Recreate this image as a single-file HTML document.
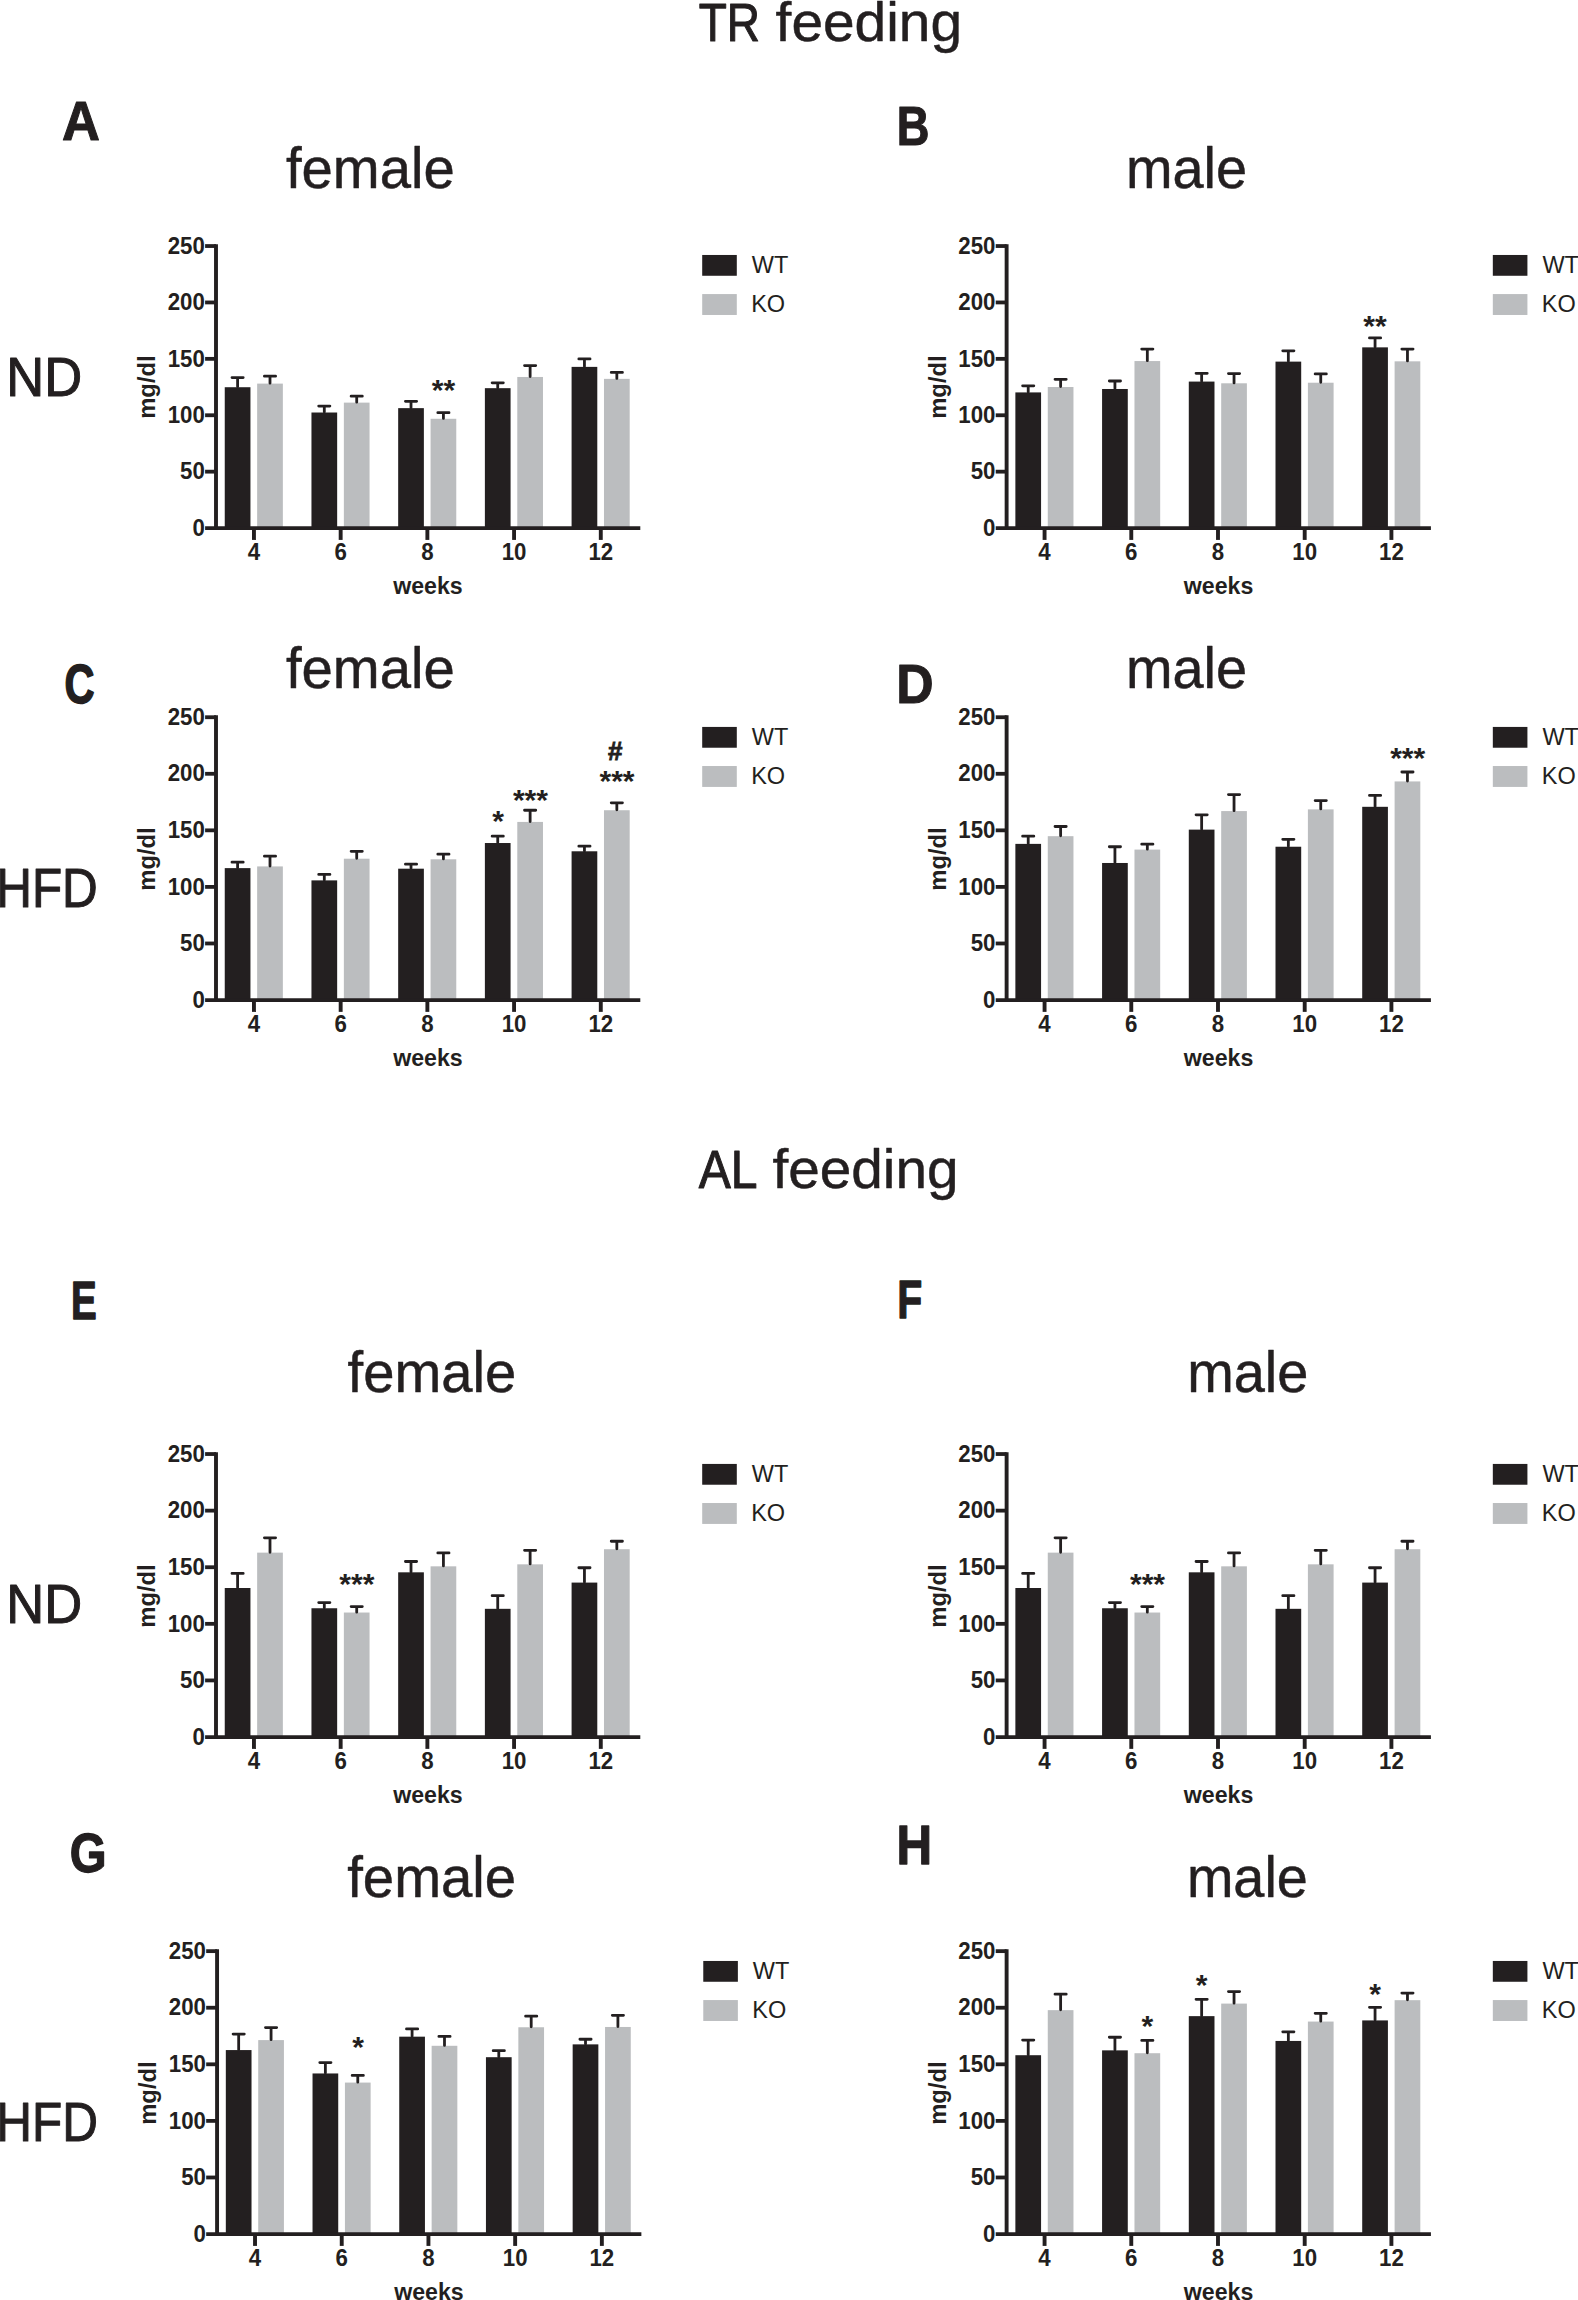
<!DOCTYPE html>
<html lang="en">
<head>
<meta charset="utf-8">
<title>Figure</title>
<style>html,body{margin:0;padding:0;background:#fff}body{width:1578px;height:2300px;overflow:hidden}svg{display:block}text{white-space:pre}</style>
</head>
<body>
<svg width="1578" height="2300" viewBox="0 0 1578 2300" font-family="'Liberation Sans', Arial, Helvetica, sans-serif" fill="#231f20">
<rect width="1578" height="2300" fill="#fff"/>
<g>
<rect x="224.75" y="387.22" width="25.7" height="140.85" fill="#231f20"/>
<path d="M237.60 386.82V377.53M232.00 377.53H243.20" stroke="#231f20" stroke-width="2.8" stroke-linecap="round" fill="none"/>
<rect x="257.15" y="383.61" width="25.7" height="144.46" fill="#bbbdbf"/>
<path d="M270.00 383.21V376.20M264.40 376.20H275.60" stroke="#231f20" stroke-width="2.8" stroke-linecap="round" fill="none"/>
<rect x="311.46" y="412.51" width="25.7" height="115.56" fill="#231f20"/>
<path d="M324.31 412.11V406.05M318.71 406.05H329.91" stroke="#231f20" stroke-width="2.8" stroke-linecap="round" fill="none"/>
<rect x="343.86" y="402.62" width="25.7" height="125.45" fill="#bbbdbf"/>
<path d="M356.71 402.22V396.16M351.11 396.16H362.31" stroke="#231f20" stroke-width="2.8" stroke-linecap="round" fill="none"/>
<rect x="398.17" y="408.14" width="25.7" height="119.93" fill="#231f20"/>
<path d="M411.02 407.74V401.29M405.42 401.29H416.62" stroke="#231f20" stroke-width="2.8" stroke-linecap="round" fill="none"/>
<rect x="430.57" y="418.78" width="25.7" height="109.29" fill="#bbbdbf"/>
<path d="M443.42 418.38V412.70M437.82 412.70H449.02" stroke="#231f20" stroke-width="2.8" stroke-linecap="round" fill="none"/>
<rect x="484.88" y="388.17" width="25.7" height="139.90" fill="#231f20"/>
<path d="M497.73 387.77V382.85M492.13 382.85H503.33" stroke="#231f20" stroke-width="2.8" stroke-linecap="round" fill="none"/>
<rect x="517.28" y="376.96" width="25.7" height="151.11" fill="#bbbdbf"/>
<path d="M530.13 376.56V365.55M524.53 365.55H535.73" stroke="#231f20" stroke-width="2.8" stroke-linecap="round" fill="none"/>
<rect x="571.59" y="366.88" width="25.7" height="161.19" fill="#231f20"/>
<path d="M584.44 366.48V358.90M578.84 358.90H590.04" stroke="#231f20" stroke-width="2.8" stroke-linecap="round" fill="none"/>
<rect x="603.99" y="378.86" width="25.7" height="149.21" fill="#bbbdbf"/>
<path d="M616.84 378.46V372.40M611.24 372.40H622.44" stroke="#231f20" stroke-width="2.8" stroke-linecap="round" fill="none"/>
<path d="M216.00 244.14V530.02" stroke="#231f20" stroke-width="3.9" fill="none"/>
<path d="M205.10 528.07H640.30" stroke="#231f20" stroke-width="3.8" fill="none"/>
<path d="M205.10 471.66H216.00" stroke="#231f20" stroke-width="3.8" fill="none"/>
<path d="M205.10 415.26H216.00" stroke="#231f20" stroke-width="3.8" fill="none"/>
<path d="M205.10 358.85H216.00" stroke="#231f20" stroke-width="3.8" fill="none"/>
<path d="M205.10 302.45H216.00" stroke="#231f20" stroke-width="3.8" fill="none"/>
<path d="M205.10 246.04H216.00" stroke="#231f20" stroke-width="3.8" fill="none"/>
<path d="M253.95 528.07V539.92" stroke="#231f20" stroke-width="3.9" fill="none"/>
<path d="M340.66 528.07V539.92" stroke="#231f20" stroke-width="3.9" fill="none"/>
<path d="M427.37 528.07V539.92" stroke="#231f20" stroke-width="3.9" fill="none"/>
<path d="M514.08 528.07V539.92" stroke="#231f20" stroke-width="3.9" fill="none"/>
<path d="M600.79 528.07V539.92" stroke="#231f20" stroke-width="3.9" fill="none"/>
<text transform="translate(204.90 535.77) scale(1 1.06)" font-size="22.3" font-weight="bold" text-anchor="end">0</text>
<text transform="translate(204.90 479.36) scale(1 1.06)" font-size="22.3" font-weight="bold" text-anchor="end">50</text>
<text transform="translate(204.90 422.96) scale(1 1.06)" font-size="22.3" font-weight="bold" text-anchor="end">100</text>
<text transform="translate(204.90 366.55) scale(1 1.06)" font-size="22.3" font-weight="bold" text-anchor="end">150</text>
<text transform="translate(204.90 310.15) scale(1 1.06)" font-size="22.3" font-weight="bold" text-anchor="end">200</text>
<text transform="translate(204.90 253.74) scale(1 1.06)" font-size="22.3" font-weight="bold" text-anchor="end">250</text>
<text transform="translate(253.95 559.77) scale(1 1.06)" font-size="22.3" font-weight="bold" text-anchor="middle">4</text>
<text transform="translate(340.66 559.77) scale(1 1.06)" font-size="22.3" font-weight="bold" text-anchor="middle">6</text>
<text transform="translate(427.37 559.77) scale(1 1.06)" font-size="22.3" font-weight="bold" text-anchor="middle">8</text>
<text transform="translate(514.08 559.77) scale(1 1.06)" font-size="22.3" font-weight="bold" text-anchor="middle">10</text>
<text transform="translate(600.79 559.77) scale(1 1.06)" font-size="22.3" font-weight="bold" text-anchor="middle">12</text>
<text transform="translate(427.90 593.77) scale(1 1)" font-size="23.15" font-weight="bold" text-anchor="middle">weeks</text>
<text transform="translate(155.30 387.07) rotate(-90)" font-size="23.8" font-weight="bold" text-anchor="middle">mg/dl</text>
<rect x="702.20" y="254.97" width="34.6" height="20.8" fill="#231f20"/>
<rect x="702.20" y="294.07" width="34.6" height="20.9" fill="#bbbdbf"/>
<text x="751.80" y="272.97" font-size="23.5">WT</text>
<text x="751.20" y="312.17" font-size="23.5">KO</text>
<text x="443.45" y="400.21" font-size="30.1" font-weight="bold" text-anchor="middle">**</text>
</g>
<g>
<rect x="1015.37" y="392.41" width="25.7" height="135.66" fill="#231f20"/>
<path d="M1028.22 392.01V385.86M1022.62 385.86H1033.82" stroke="#231f20" stroke-width="2.8" stroke-linecap="round" fill="none"/>
<rect x="1047.77" y="387.00" width="25.7" height="141.07" fill="#bbbdbf"/>
<path d="M1060.62 386.60V379.30M1055.02 379.30H1066.22" stroke="#231f20" stroke-width="2.8" stroke-linecap="round" fill="none"/>
<rect x="1102.08" y="388.99" width="25.7" height="139.08" fill="#231f20"/>
<path d="M1114.93 388.59V381.01M1109.33 381.01H1120.53" stroke="#231f20" stroke-width="2.8" stroke-linecap="round" fill="none"/>
<rect x="1134.48" y="361.05" width="25.7" height="167.02" fill="#bbbdbf"/>
<path d="M1147.33 360.65V349.07M1141.73 349.07H1152.93" stroke="#231f20" stroke-width="2.8" stroke-linecap="round" fill="none"/>
<rect x="1188.79" y="381.58" width="25.7" height="146.49" fill="#231f20"/>
<path d="M1201.64 381.18V373.31M1196.04 373.31H1207.24" stroke="#231f20" stroke-width="2.8" stroke-linecap="round" fill="none"/>
<rect x="1221.19" y="383.29" width="25.7" height="144.78" fill="#bbbdbf"/>
<path d="M1234.04 382.89V373.59M1228.44 373.59H1239.64" stroke="#231f20" stroke-width="2.8" stroke-linecap="round" fill="none"/>
<rect x="1275.50" y="361.62" width="25.7" height="166.45" fill="#231f20"/>
<path d="M1288.35 361.22V350.78M1282.75 350.78H1293.95" stroke="#231f20" stroke-width="2.8" stroke-linecap="round" fill="none"/>
<rect x="1307.90" y="382.72" width="25.7" height="145.35" fill="#bbbdbf"/>
<path d="M1320.75 382.32V373.88M1315.15 373.88H1326.35" stroke="#231f20" stroke-width="2.8" stroke-linecap="round" fill="none"/>
<rect x="1362.21" y="347.36" width="25.7" height="180.71" fill="#231f20"/>
<path d="M1375.06 346.96V337.95M1369.46 337.95H1380.66" stroke="#231f20" stroke-width="2.8" stroke-linecap="round" fill="none"/>
<rect x="1394.61" y="361.33" width="25.7" height="166.74" fill="#bbbdbf"/>
<path d="M1407.46 360.93V349.07M1401.86 349.07H1413.06" stroke="#231f20" stroke-width="2.8" stroke-linecap="round" fill="none"/>
<path d="M1006.62 244.14V530.02" stroke="#231f20" stroke-width="3.9" fill="none"/>
<path d="M995.72 528.07H1430.92" stroke="#231f20" stroke-width="3.8" fill="none"/>
<path d="M995.72 471.66H1006.62" stroke="#231f20" stroke-width="3.8" fill="none"/>
<path d="M995.72 415.26H1006.62" stroke="#231f20" stroke-width="3.8" fill="none"/>
<path d="M995.72 358.85H1006.62" stroke="#231f20" stroke-width="3.8" fill="none"/>
<path d="M995.72 302.45H1006.62" stroke="#231f20" stroke-width="3.8" fill="none"/>
<path d="M995.72 246.04H1006.62" stroke="#231f20" stroke-width="3.8" fill="none"/>
<path d="M1044.57 528.07V539.92" stroke="#231f20" stroke-width="3.9" fill="none"/>
<path d="M1131.28 528.07V539.92" stroke="#231f20" stroke-width="3.9" fill="none"/>
<path d="M1217.99 528.07V539.92" stroke="#231f20" stroke-width="3.9" fill="none"/>
<path d="M1304.70 528.07V539.92" stroke="#231f20" stroke-width="3.9" fill="none"/>
<path d="M1391.41 528.07V539.92" stroke="#231f20" stroke-width="3.9" fill="none"/>
<text transform="translate(995.52 535.77) scale(1 1.06)" font-size="22.3" font-weight="bold" text-anchor="end">0</text>
<text transform="translate(995.52 479.36) scale(1 1.06)" font-size="22.3" font-weight="bold" text-anchor="end">50</text>
<text transform="translate(995.52 422.96) scale(1 1.06)" font-size="22.3" font-weight="bold" text-anchor="end">100</text>
<text transform="translate(995.52 366.55) scale(1 1.06)" font-size="22.3" font-weight="bold" text-anchor="end">150</text>
<text transform="translate(995.52 310.15) scale(1 1.06)" font-size="22.3" font-weight="bold" text-anchor="end">200</text>
<text transform="translate(995.52 253.74) scale(1 1.06)" font-size="22.3" font-weight="bold" text-anchor="end">250</text>
<text transform="translate(1044.57 559.77) scale(1 1.06)" font-size="22.3" font-weight="bold" text-anchor="middle">4</text>
<text transform="translate(1131.28 559.77) scale(1 1.06)" font-size="22.3" font-weight="bold" text-anchor="middle">6</text>
<text transform="translate(1217.99 559.77) scale(1 1.06)" font-size="22.3" font-weight="bold" text-anchor="middle">8</text>
<text transform="translate(1304.70 559.77) scale(1 1.06)" font-size="22.3" font-weight="bold" text-anchor="middle">10</text>
<text transform="translate(1391.41 559.77) scale(1 1.06)" font-size="22.3" font-weight="bold" text-anchor="middle">12</text>
<text transform="translate(1218.52 593.77) scale(1 1)" font-size="23.15" font-weight="bold" text-anchor="middle">weeks</text>
<text transform="translate(945.92 387.07) rotate(-90)" font-size="23.8" font-weight="bold" text-anchor="middle">mg/dl</text>
<rect x="1492.82" y="254.97" width="34.6" height="20.8" fill="#231f20"/>
<rect x="1492.82" y="294.07" width="34.6" height="20.9" fill="#bbbdbf"/>
<text x="1542.42" y="272.97" font-size="23.5">WT</text>
<text x="1541.82" y="312.17" font-size="23.5">KO</text>
<text x="1375.00" y="335.71" font-size="30.1" font-weight="bold" text-anchor="middle">**</text>
</g>
<g>
<rect x="224.75" y="868.12" width="25.7" height="131.91" fill="#231f20"/>
<path d="M237.60 867.72V862.13M232.00 862.13H243.20" stroke="#231f20" stroke-width="2.8" stroke-linecap="round" fill="none"/>
<rect x="257.15" y="866.41" width="25.7" height="133.62" fill="#bbbdbf"/>
<path d="M270.00 866.01V856.14M264.40 856.14H275.60" stroke="#231f20" stroke-width="2.8" stroke-linecap="round" fill="none"/>
<rect x="311.46" y="880.38" width="25.7" height="119.65" fill="#231f20"/>
<path d="M324.31 879.98V874.39M318.71 874.39H329.91" stroke="#231f20" stroke-width="2.8" stroke-linecap="round" fill="none"/>
<rect x="343.86" y="858.71" width="25.7" height="141.32" fill="#bbbdbf"/>
<path d="M356.71 858.31V851.29M351.11 851.29H362.31" stroke="#231f20" stroke-width="2.8" stroke-linecap="round" fill="none"/>
<rect x="398.17" y="868.69" width="25.7" height="131.34" fill="#231f20"/>
<path d="M411.02 868.29V864.13M405.42 864.13H416.62" stroke="#231f20" stroke-width="2.8" stroke-linecap="round" fill="none"/>
<rect x="430.57" y="859.28" width="25.7" height="140.75" fill="#bbbdbf"/>
<path d="M443.42 858.88V854.14M437.82 854.14H449.02" stroke="#231f20" stroke-width="2.8" stroke-linecap="round" fill="none"/>
<rect x="484.88" y="843.02" width="25.7" height="157.01" fill="#231f20"/>
<path d="M497.73 842.62V836.18M492.13 836.18H503.33" stroke="#231f20" stroke-width="2.8" stroke-linecap="round" fill="none"/>
<rect x="517.28" y="821.92" width="25.7" height="178.11" fill="#bbbdbf"/>
<path d="M530.13 821.52V810.23M524.53 810.23H535.73" stroke="#231f20" stroke-width="2.8" stroke-linecap="round" fill="none"/>
<rect x="571.59" y="851.29" width="25.7" height="148.74" fill="#231f20"/>
<path d="M584.44 850.89V846.16M578.84 846.16H590.04" stroke="#231f20" stroke-width="2.8" stroke-linecap="round" fill="none"/>
<rect x="603.99" y="810.23" width="25.7" height="189.80" fill="#bbbdbf"/>
<path d="M616.84 809.83V802.81M611.24 802.81H622.44" stroke="#231f20" stroke-width="2.8" stroke-linecap="round" fill="none"/>
<path d="M216.00 715.33V1001.98" stroke="#231f20" stroke-width="3.9" fill="none"/>
<path d="M205.10 1000.03H640.30" stroke="#231f20" stroke-width="3.8" fill="none"/>
<path d="M205.10 943.47H216.00" stroke="#231f20" stroke-width="3.8" fill="none"/>
<path d="M205.10 886.91H216.00" stroke="#231f20" stroke-width="3.8" fill="none"/>
<path d="M205.10 830.35H216.00" stroke="#231f20" stroke-width="3.8" fill="none"/>
<path d="M205.10 773.79H216.00" stroke="#231f20" stroke-width="3.8" fill="none"/>
<path d="M205.10 717.23H216.00" stroke="#231f20" stroke-width="3.8" fill="none"/>
<path d="M253.95 1000.03V1011.88" stroke="#231f20" stroke-width="3.9" fill="none"/>
<path d="M340.66 1000.03V1011.88" stroke="#231f20" stroke-width="3.9" fill="none"/>
<path d="M427.37 1000.03V1011.88" stroke="#231f20" stroke-width="3.9" fill="none"/>
<path d="M514.08 1000.03V1011.88" stroke="#231f20" stroke-width="3.9" fill="none"/>
<path d="M600.79 1000.03V1011.88" stroke="#231f20" stroke-width="3.9" fill="none"/>
<text transform="translate(204.90 1007.73) scale(1 1.06)" font-size="22.3" font-weight="bold" text-anchor="end">0</text>
<text transform="translate(204.90 951.17) scale(1 1.06)" font-size="22.3" font-weight="bold" text-anchor="end">50</text>
<text transform="translate(204.90 894.61) scale(1 1.06)" font-size="22.3" font-weight="bold" text-anchor="end">100</text>
<text transform="translate(204.90 838.05) scale(1 1.06)" font-size="22.3" font-weight="bold" text-anchor="end">150</text>
<text transform="translate(204.90 781.49) scale(1 1.06)" font-size="22.3" font-weight="bold" text-anchor="end">200</text>
<text transform="translate(204.90 724.93) scale(1 1.06)" font-size="22.3" font-weight="bold" text-anchor="end">250</text>
<text transform="translate(253.95 1031.73) scale(1 1.06)" font-size="22.3" font-weight="bold" text-anchor="middle">4</text>
<text transform="translate(340.66 1031.73) scale(1 1.06)" font-size="22.3" font-weight="bold" text-anchor="middle">6</text>
<text transform="translate(427.37 1031.73) scale(1 1.06)" font-size="22.3" font-weight="bold" text-anchor="middle">8</text>
<text transform="translate(514.08 1031.73) scale(1 1.06)" font-size="22.3" font-weight="bold" text-anchor="middle">10</text>
<text transform="translate(600.79 1031.73) scale(1 1.06)" font-size="22.3" font-weight="bold" text-anchor="middle">12</text>
<text transform="translate(427.90 1065.73) scale(1 1)" font-size="23.15" font-weight="bold" text-anchor="middle">weeks</text>
<text transform="translate(155.30 859.03) rotate(-90)" font-size="23.8" font-weight="bold" text-anchor="middle">mg/dl</text>
<rect x="702.20" y="726.93" width="34.6" height="20.8" fill="#231f20"/>
<rect x="702.20" y="766.03" width="34.6" height="20.9" fill="#bbbdbf"/>
<text x="751.80" y="744.93" font-size="23.5">WT</text>
<text x="751.20" y="784.13" font-size="23.5">KO</text>
<text x="498.00" y="830.51" font-size="30.1" font-weight="bold" text-anchor="middle">*</text>
<text x="530.45" y="810.21" font-size="30.1" font-weight="bold" text-anchor="middle">***</text>
<text x="617.00" y="791.31" font-size="30.1" font-weight="bold" text-anchor="middle">***</text>
<text x="615.30" y="760.40" font-size="26" font-weight="bold" text-anchor="middle" stroke="#231f20" stroke-width="0.8">#</text>
</g>
<g>
<rect x="1015.37" y="843.88" width="25.7" height="156.15" fill="#231f20"/>
<path d="M1028.22 843.48V836.18M1022.62 836.18H1033.82" stroke="#231f20" stroke-width="2.8" stroke-linecap="round" fill="none"/>
<rect x="1047.77" y="836.18" width="25.7" height="163.85" fill="#bbbdbf"/>
<path d="M1060.62 835.78V826.48M1055.02 826.48H1066.22" stroke="#231f20" stroke-width="2.8" stroke-linecap="round" fill="none"/>
<rect x="1102.08" y="862.98" width="25.7" height="137.05" fill="#231f20"/>
<path d="M1114.93 862.58V846.73M1109.33 846.73H1120.53" stroke="#231f20" stroke-width="2.8" stroke-linecap="round" fill="none"/>
<rect x="1134.48" y="849.58" width="25.7" height="150.45" fill="#bbbdbf"/>
<path d="M1147.33 849.18V844.16M1141.73 844.16H1152.93" stroke="#231f20" stroke-width="2.8" stroke-linecap="round" fill="none"/>
<rect x="1188.79" y="829.62" width="25.7" height="170.41" fill="#231f20"/>
<path d="M1201.64 829.22V814.79M1196.04 814.79H1207.24" stroke="#231f20" stroke-width="2.8" stroke-linecap="round" fill="none"/>
<rect x="1221.19" y="811.08" width="25.7" height="188.95" fill="#bbbdbf"/>
<path d="M1234.04 810.68V794.54M1228.44 794.54H1239.64" stroke="#231f20" stroke-width="2.8" stroke-linecap="round" fill="none"/>
<rect x="1275.50" y="846.73" width="25.7" height="153.30" fill="#231f20"/>
<path d="M1288.35 846.33V839.32M1282.75 839.32H1293.95" stroke="#231f20" stroke-width="2.8" stroke-linecap="round" fill="none"/>
<rect x="1307.90" y="809.37" width="25.7" height="190.66" fill="#bbbdbf"/>
<path d="M1320.75 808.97V800.53M1315.15 800.53H1326.35" stroke="#231f20" stroke-width="2.8" stroke-linecap="round" fill="none"/>
<rect x="1362.21" y="806.81" width="25.7" height="193.22" fill="#231f20"/>
<path d="M1375.06 806.41V795.40M1369.46 795.40H1380.66" stroke="#231f20" stroke-width="2.8" stroke-linecap="round" fill="none"/>
<rect x="1394.61" y="781.43" width="25.7" height="218.60" fill="#bbbdbf"/>
<path d="M1407.46 781.03V772.02M1401.86 772.02H1413.06" stroke="#231f20" stroke-width="2.8" stroke-linecap="round" fill="none"/>
<path d="M1006.62 715.33V1001.98" stroke="#231f20" stroke-width="3.9" fill="none"/>
<path d="M995.72 1000.03H1430.92" stroke="#231f20" stroke-width="3.8" fill="none"/>
<path d="M995.72 943.47H1006.62" stroke="#231f20" stroke-width="3.8" fill="none"/>
<path d="M995.72 886.91H1006.62" stroke="#231f20" stroke-width="3.8" fill="none"/>
<path d="M995.72 830.35H1006.62" stroke="#231f20" stroke-width="3.8" fill="none"/>
<path d="M995.72 773.79H1006.62" stroke="#231f20" stroke-width="3.8" fill="none"/>
<path d="M995.72 717.23H1006.62" stroke="#231f20" stroke-width="3.8" fill="none"/>
<path d="M1044.57 1000.03V1011.88" stroke="#231f20" stroke-width="3.9" fill="none"/>
<path d="M1131.28 1000.03V1011.88" stroke="#231f20" stroke-width="3.9" fill="none"/>
<path d="M1217.99 1000.03V1011.88" stroke="#231f20" stroke-width="3.9" fill="none"/>
<path d="M1304.70 1000.03V1011.88" stroke="#231f20" stroke-width="3.9" fill="none"/>
<path d="M1391.41 1000.03V1011.88" stroke="#231f20" stroke-width="3.9" fill="none"/>
<text transform="translate(995.52 1007.73) scale(1 1.06)" font-size="22.3" font-weight="bold" text-anchor="end">0</text>
<text transform="translate(995.52 951.17) scale(1 1.06)" font-size="22.3" font-weight="bold" text-anchor="end">50</text>
<text transform="translate(995.52 894.61) scale(1 1.06)" font-size="22.3" font-weight="bold" text-anchor="end">100</text>
<text transform="translate(995.52 838.05) scale(1 1.06)" font-size="22.3" font-weight="bold" text-anchor="end">150</text>
<text transform="translate(995.52 781.49) scale(1 1.06)" font-size="22.3" font-weight="bold" text-anchor="end">200</text>
<text transform="translate(995.52 724.93) scale(1 1.06)" font-size="22.3" font-weight="bold" text-anchor="end">250</text>
<text transform="translate(1044.57 1031.73) scale(1 1.06)" font-size="22.3" font-weight="bold" text-anchor="middle">4</text>
<text transform="translate(1131.28 1031.73) scale(1 1.06)" font-size="22.3" font-weight="bold" text-anchor="middle">6</text>
<text transform="translate(1217.99 1031.73) scale(1 1.06)" font-size="22.3" font-weight="bold" text-anchor="middle">8</text>
<text transform="translate(1304.70 1031.73) scale(1 1.06)" font-size="22.3" font-weight="bold" text-anchor="middle">10</text>
<text transform="translate(1391.41 1031.73) scale(1 1.06)" font-size="22.3" font-weight="bold" text-anchor="middle">12</text>
<text transform="translate(1218.52 1065.73) scale(1 1)" font-size="23.15" font-weight="bold" text-anchor="middle">weeks</text>
<text transform="translate(945.92 859.03) rotate(-90)" font-size="23.8" font-weight="bold" text-anchor="middle">mg/dl</text>
<rect x="1492.82" y="726.93" width="34.6" height="20.8" fill="#231f20"/>
<rect x="1492.82" y="766.03" width="34.6" height="20.9" fill="#bbbdbf"/>
<text x="1542.42" y="744.93" font-size="23.5">WT</text>
<text x="1541.82" y="784.13" font-size="23.5">KO</text>
<text x="1407.70" y="767.61" font-size="30.1" font-weight="bold" text-anchor="middle">***</text>
</g>
<g>
<rect x="224.75" y="1588.00" width="25.7" height="149.03" fill="#231f20"/>
<path d="M237.60 1587.60V1573.46M232.00 1573.46H243.20" stroke="#231f20" stroke-width="2.8" stroke-linecap="round" fill="none"/>
<rect x="257.15" y="1552.64" width="25.7" height="184.39" fill="#bbbdbf"/>
<path d="M270.00 1552.24V1537.81M264.40 1537.81H275.60" stroke="#231f20" stroke-width="2.8" stroke-linecap="round" fill="none"/>
<rect x="311.46" y="1608.25" width="25.7" height="128.78" fill="#231f20"/>
<path d="M324.31 1607.85V1602.55M318.71 1602.55H329.91" stroke="#231f20" stroke-width="2.8" stroke-linecap="round" fill="none"/>
<rect x="343.86" y="1612.53" width="25.7" height="124.50" fill="#bbbdbf"/>
<path d="M356.71 1612.13V1606.54M351.11 1606.54H362.31" stroke="#231f20" stroke-width="2.8" stroke-linecap="round" fill="none"/>
<rect x="398.17" y="1572.32" width="25.7" height="164.71" fill="#231f20"/>
<path d="M411.02 1571.92V1561.48M405.42 1561.48H416.62" stroke="#231f20" stroke-width="2.8" stroke-linecap="round" fill="none"/>
<rect x="430.57" y="1566.33" width="25.7" height="170.70" fill="#bbbdbf"/>
<path d="M443.42 1565.93V1552.93M437.82 1552.93H449.02" stroke="#231f20" stroke-width="2.8" stroke-linecap="round" fill="none"/>
<rect x="484.88" y="1608.82" width="25.7" height="128.21" fill="#231f20"/>
<path d="M497.73 1608.42V1595.70M492.13 1595.70H503.33" stroke="#231f20" stroke-width="2.8" stroke-linecap="round" fill="none"/>
<rect x="517.28" y="1564.33" width="25.7" height="172.70" fill="#bbbdbf"/>
<path d="M530.13 1563.93V1550.36M524.53 1550.36H535.73" stroke="#231f20" stroke-width="2.8" stroke-linecap="round" fill="none"/>
<rect x="571.59" y="1582.59" width="25.7" height="154.44" fill="#231f20"/>
<path d="M584.44 1582.19V1567.76M578.84 1567.76H590.04" stroke="#231f20" stroke-width="2.8" stroke-linecap="round" fill="none"/>
<rect x="603.99" y="1549.22" width="25.7" height="187.81" fill="#bbbdbf"/>
<path d="M616.84 1548.82V1541.24M611.24 1541.24H622.44" stroke="#231f20" stroke-width="2.8" stroke-linecap="round" fill="none"/>
<path d="M216.00 1452.13V1738.98" stroke="#231f20" stroke-width="3.9" fill="none"/>
<path d="M205.10 1737.03H640.30" stroke="#231f20" stroke-width="3.8" fill="none"/>
<path d="M205.10 1680.43H216.00" stroke="#231f20" stroke-width="3.8" fill="none"/>
<path d="M205.10 1623.83H216.00" stroke="#231f20" stroke-width="3.8" fill="none"/>
<path d="M205.10 1567.23H216.00" stroke="#231f20" stroke-width="3.8" fill="none"/>
<path d="M205.10 1510.63H216.00" stroke="#231f20" stroke-width="3.8" fill="none"/>
<path d="M205.10 1454.03H216.00" stroke="#231f20" stroke-width="3.8" fill="none"/>
<path d="M253.95 1737.03V1748.88" stroke="#231f20" stroke-width="3.9" fill="none"/>
<path d="M340.66 1737.03V1748.88" stroke="#231f20" stroke-width="3.9" fill="none"/>
<path d="M427.37 1737.03V1748.88" stroke="#231f20" stroke-width="3.9" fill="none"/>
<path d="M514.08 1737.03V1748.88" stroke="#231f20" stroke-width="3.9" fill="none"/>
<path d="M600.79 1737.03V1748.88" stroke="#231f20" stroke-width="3.9" fill="none"/>
<text transform="translate(204.90 1744.73) scale(1 1.06)" font-size="22.3" font-weight="bold" text-anchor="end">0</text>
<text transform="translate(204.90 1688.13) scale(1 1.06)" font-size="22.3" font-weight="bold" text-anchor="end">50</text>
<text transform="translate(204.90 1631.53) scale(1 1.06)" font-size="22.3" font-weight="bold" text-anchor="end">100</text>
<text transform="translate(204.90 1574.93) scale(1 1.06)" font-size="22.3" font-weight="bold" text-anchor="end">150</text>
<text transform="translate(204.90 1518.33) scale(1 1.06)" font-size="22.3" font-weight="bold" text-anchor="end">200</text>
<text transform="translate(204.90 1461.73) scale(1 1.06)" font-size="22.3" font-weight="bold" text-anchor="end">250</text>
<text transform="translate(253.95 1768.73) scale(1 1.06)" font-size="22.3" font-weight="bold" text-anchor="middle">4</text>
<text transform="translate(340.66 1768.73) scale(1 1.06)" font-size="22.3" font-weight="bold" text-anchor="middle">6</text>
<text transform="translate(427.37 1768.73) scale(1 1.06)" font-size="22.3" font-weight="bold" text-anchor="middle">8</text>
<text transform="translate(514.08 1768.73) scale(1 1.06)" font-size="22.3" font-weight="bold" text-anchor="middle">10</text>
<text transform="translate(600.79 1768.73) scale(1 1.06)" font-size="22.3" font-weight="bold" text-anchor="middle">12</text>
<text transform="translate(427.90 1802.73) scale(1 1)" font-size="23.15" font-weight="bold" text-anchor="middle">weeks</text>
<text transform="translate(155.30 1596.03) rotate(-90)" font-size="23.8" font-weight="bold" text-anchor="middle">mg/dl</text>
<rect x="702.20" y="1463.93" width="34.6" height="20.8" fill="#231f20"/>
<rect x="702.20" y="1503.03" width="34.6" height="20.9" fill="#bbbdbf"/>
<text x="751.80" y="1481.93" font-size="23.5">WT</text>
<text x="751.20" y="1521.13" font-size="23.5">KO</text>
<text x="356.90" y="1593.91" font-size="30.1" font-weight="bold" text-anchor="middle">***</text>
</g>
<g>
<rect x="1015.37" y="1588.00" width="25.7" height="149.03" fill="#231f20"/>
<path d="M1028.22 1587.60V1573.46M1022.62 1573.46H1033.82" stroke="#231f20" stroke-width="2.8" stroke-linecap="round" fill="none"/>
<rect x="1047.77" y="1552.64" width="25.7" height="184.39" fill="#bbbdbf"/>
<path d="M1060.62 1552.24V1537.81M1055.02 1537.81H1066.22" stroke="#231f20" stroke-width="2.8" stroke-linecap="round" fill="none"/>
<rect x="1102.08" y="1608.25" width="25.7" height="128.78" fill="#231f20"/>
<path d="M1114.93 1607.85V1602.55M1109.33 1602.55H1120.53" stroke="#231f20" stroke-width="2.8" stroke-linecap="round" fill="none"/>
<rect x="1134.48" y="1612.53" width="25.7" height="124.50" fill="#bbbdbf"/>
<path d="M1147.33 1612.13V1606.54M1141.73 1606.54H1152.93" stroke="#231f20" stroke-width="2.8" stroke-linecap="round" fill="none"/>
<rect x="1188.79" y="1572.32" width="25.7" height="164.71" fill="#231f20"/>
<path d="M1201.64 1571.92V1561.48M1196.04 1561.48H1207.24" stroke="#231f20" stroke-width="2.8" stroke-linecap="round" fill="none"/>
<rect x="1221.19" y="1566.33" width="25.7" height="170.70" fill="#bbbdbf"/>
<path d="M1234.04 1565.93V1552.93M1228.44 1552.93H1239.64" stroke="#231f20" stroke-width="2.8" stroke-linecap="round" fill="none"/>
<rect x="1275.50" y="1608.82" width="25.7" height="128.21" fill="#231f20"/>
<path d="M1288.35 1608.42V1595.70M1282.75 1595.70H1293.95" stroke="#231f20" stroke-width="2.8" stroke-linecap="round" fill="none"/>
<rect x="1307.90" y="1564.33" width="25.7" height="172.70" fill="#bbbdbf"/>
<path d="M1320.75 1563.93V1550.36M1315.15 1550.36H1326.35" stroke="#231f20" stroke-width="2.8" stroke-linecap="round" fill="none"/>
<rect x="1362.21" y="1582.59" width="25.7" height="154.44" fill="#231f20"/>
<path d="M1375.06 1582.19V1567.76M1369.46 1567.76H1380.66" stroke="#231f20" stroke-width="2.8" stroke-linecap="round" fill="none"/>
<rect x="1394.61" y="1549.22" width="25.7" height="187.81" fill="#bbbdbf"/>
<path d="M1407.46 1548.82V1541.24M1401.86 1541.24H1413.06" stroke="#231f20" stroke-width="2.8" stroke-linecap="round" fill="none"/>
<path d="M1006.62 1452.13V1738.98" stroke="#231f20" stroke-width="3.9" fill="none"/>
<path d="M995.72 1737.03H1430.92" stroke="#231f20" stroke-width="3.8" fill="none"/>
<path d="M995.72 1680.43H1006.62" stroke="#231f20" stroke-width="3.8" fill="none"/>
<path d="M995.72 1623.83H1006.62" stroke="#231f20" stroke-width="3.8" fill="none"/>
<path d="M995.72 1567.23H1006.62" stroke="#231f20" stroke-width="3.8" fill="none"/>
<path d="M995.72 1510.63H1006.62" stroke="#231f20" stroke-width="3.8" fill="none"/>
<path d="M995.72 1454.03H1006.62" stroke="#231f20" stroke-width="3.8" fill="none"/>
<path d="M1044.57 1737.03V1748.88" stroke="#231f20" stroke-width="3.9" fill="none"/>
<path d="M1131.28 1737.03V1748.88" stroke="#231f20" stroke-width="3.9" fill="none"/>
<path d="M1217.99 1737.03V1748.88" stroke="#231f20" stroke-width="3.9" fill="none"/>
<path d="M1304.70 1737.03V1748.88" stroke="#231f20" stroke-width="3.9" fill="none"/>
<path d="M1391.41 1737.03V1748.88" stroke="#231f20" stroke-width="3.9" fill="none"/>
<text transform="translate(995.52 1744.73) scale(1 1.06)" font-size="22.3" font-weight="bold" text-anchor="end">0</text>
<text transform="translate(995.52 1688.13) scale(1 1.06)" font-size="22.3" font-weight="bold" text-anchor="end">50</text>
<text transform="translate(995.52 1631.53) scale(1 1.06)" font-size="22.3" font-weight="bold" text-anchor="end">100</text>
<text transform="translate(995.52 1574.93) scale(1 1.06)" font-size="22.3" font-weight="bold" text-anchor="end">150</text>
<text transform="translate(995.52 1518.33) scale(1 1.06)" font-size="22.3" font-weight="bold" text-anchor="end">200</text>
<text transform="translate(995.52 1461.73) scale(1 1.06)" font-size="22.3" font-weight="bold" text-anchor="end">250</text>
<text transform="translate(1044.57 1768.73) scale(1 1.06)" font-size="22.3" font-weight="bold" text-anchor="middle">4</text>
<text transform="translate(1131.28 1768.73) scale(1 1.06)" font-size="22.3" font-weight="bold" text-anchor="middle">6</text>
<text transform="translate(1217.99 1768.73) scale(1 1.06)" font-size="22.3" font-weight="bold" text-anchor="middle">8</text>
<text transform="translate(1304.70 1768.73) scale(1 1.06)" font-size="22.3" font-weight="bold" text-anchor="middle">10</text>
<text transform="translate(1391.41 1768.73) scale(1 1.06)" font-size="22.3" font-weight="bold" text-anchor="middle">12</text>
<text transform="translate(1218.52 1802.73) scale(1 1)" font-size="23.15" font-weight="bold" text-anchor="middle">weeks</text>
<text transform="translate(945.92 1596.03) rotate(-90)" font-size="23.8" font-weight="bold" text-anchor="middle">mg/dl</text>
<rect x="1492.82" y="1463.93" width="34.6" height="20.8" fill="#231f20"/>
<rect x="1492.82" y="1503.03" width="34.6" height="20.9" fill="#bbbdbf"/>
<text x="1542.42" y="1481.93" font-size="23.5">WT</text>
<text x="1541.82" y="1521.13" font-size="23.5">KO</text>
<text x="1147.52" y="1593.91" font-size="30.1" font-weight="bold" text-anchor="middle">***</text>
</g>
<g>
<rect x="225.82" y="2050.07" width="25.7" height="183.99" fill="#231f20"/>
<path d="M238.67 2049.67V2034.10M233.07 2034.10H244.27" stroke="#231f20" stroke-width="2.8" stroke-linecap="round" fill="none"/>
<rect x="258.22" y="2040.09" width="25.7" height="193.97" fill="#bbbdbf"/>
<path d="M271.07 2039.69V2027.54M265.47 2027.54H276.67" stroke="#231f20" stroke-width="2.8" stroke-linecap="round" fill="none"/>
<rect x="312.53" y="2073.46" width="25.7" height="160.60" fill="#231f20"/>
<path d="M325.38 2073.06V2062.62M319.78 2062.62H330.98" stroke="#231f20" stroke-width="2.8" stroke-linecap="round" fill="none"/>
<rect x="344.93" y="2082.58" width="25.7" height="151.48" fill="#bbbdbf"/>
<path d="M357.78 2082.18V2075.45M352.18 2075.45H363.38" stroke="#231f20" stroke-width="2.8" stroke-linecap="round" fill="none"/>
<rect x="399.24" y="2036.67" width="25.7" height="197.39" fill="#231f20"/>
<path d="M412.09 2036.27V2028.97M406.49 2028.97H417.69" stroke="#231f20" stroke-width="2.8" stroke-linecap="round" fill="none"/>
<rect x="431.64" y="2045.79" width="25.7" height="188.27" fill="#bbbdbf"/>
<path d="M444.49 2045.39V2036.38M438.89 2036.38H450.09" stroke="#231f20" stroke-width="2.8" stroke-linecap="round" fill="none"/>
<rect x="485.95" y="2057.20" width="25.7" height="176.86" fill="#231f20"/>
<path d="M498.80 2056.80V2050.64M493.20 2050.64H504.40" stroke="#231f20" stroke-width="2.8" stroke-linecap="round" fill="none"/>
<rect x="518.35" y="2027.26" width="25.7" height="206.80" fill="#bbbdbf"/>
<path d="M531.20 2026.86V2016.14M525.60 2016.14H536.80" stroke="#231f20" stroke-width="2.8" stroke-linecap="round" fill="none"/>
<rect x="572.66" y="2044.37" width="25.7" height="189.69" fill="#231f20"/>
<path d="M585.51 2043.97V2039.24M579.91 2039.24H591.11" stroke="#231f20" stroke-width="2.8" stroke-linecap="round" fill="none"/>
<rect x="605.06" y="2026.97" width="25.7" height="207.09" fill="#bbbdbf"/>
<path d="M617.91 2026.57V2015.28M612.31 2015.28H623.51" stroke="#231f20" stroke-width="2.8" stroke-linecap="round" fill="none"/>
<path d="M217.07 1949.24V2236.01" stroke="#231f20" stroke-width="3.9" fill="none"/>
<path d="M206.17 2234.06H641.37" stroke="#231f20" stroke-width="3.8" fill="none"/>
<path d="M206.17 2177.48H217.07" stroke="#231f20" stroke-width="3.8" fill="none"/>
<path d="M206.17 2120.89H217.07" stroke="#231f20" stroke-width="3.8" fill="none"/>
<path d="M206.17 2064.31H217.07" stroke="#231f20" stroke-width="3.8" fill="none"/>
<path d="M206.17 2007.72H217.07" stroke="#231f20" stroke-width="3.8" fill="none"/>
<path d="M206.17 1951.14H217.07" stroke="#231f20" stroke-width="3.8" fill="none"/>
<path d="M255.02 2234.06V2245.91" stroke="#231f20" stroke-width="3.9" fill="none"/>
<path d="M341.73 2234.06V2245.91" stroke="#231f20" stroke-width="3.9" fill="none"/>
<path d="M428.44 2234.06V2245.91" stroke="#231f20" stroke-width="3.9" fill="none"/>
<path d="M515.15 2234.06V2245.91" stroke="#231f20" stroke-width="3.9" fill="none"/>
<path d="M601.86 2234.06V2245.91" stroke="#231f20" stroke-width="3.9" fill="none"/>
<text transform="translate(205.97 2241.76) scale(1 1.06)" font-size="22.3" font-weight="bold" text-anchor="end">0</text>
<text transform="translate(205.97 2185.18) scale(1 1.06)" font-size="22.3" font-weight="bold" text-anchor="end">50</text>
<text transform="translate(205.97 2128.59) scale(1 1.06)" font-size="22.3" font-weight="bold" text-anchor="end">100</text>
<text transform="translate(205.97 2072.01) scale(1 1.06)" font-size="22.3" font-weight="bold" text-anchor="end">150</text>
<text transform="translate(205.97 2015.42) scale(1 1.06)" font-size="22.3" font-weight="bold" text-anchor="end">200</text>
<text transform="translate(205.97 1958.84) scale(1 1.06)" font-size="22.3" font-weight="bold" text-anchor="end">250</text>
<text transform="translate(255.02 2265.76) scale(1 1.06)" font-size="22.3" font-weight="bold" text-anchor="middle">4</text>
<text transform="translate(341.73 2265.76) scale(1 1.06)" font-size="22.3" font-weight="bold" text-anchor="middle">6</text>
<text transform="translate(428.44 2265.76) scale(1 1.06)" font-size="22.3" font-weight="bold" text-anchor="middle">8</text>
<text transform="translate(515.15 2265.76) scale(1 1.06)" font-size="22.3" font-weight="bold" text-anchor="middle">10</text>
<text transform="translate(601.86 2265.76) scale(1 1.06)" font-size="22.3" font-weight="bold" text-anchor="middle">12</text>
<text transform="translate(428.97 2299.76) scale(1 1)" font-size="23.15" font-weight="bold" text-anchor="middle">weeks</text>
<text transform="translate(156.37 2093.06) rotate(-90)" font-size="23.8" font-weight="bold" text-anchor="middle">mg/dl</text>
<rect x="703.27" y="1960.96" width="34.6" height="20.8" fill="#231f20"/>
<rect x="703.27" y="2000.06" width="34.6" height="20.9" fill="#bbbdbf"/>
<text x="752.87" y="1978.96" font-size="23.5">WT</text>
<text x="752.27" y="2018.16" font-size="23.5">KO</text>
<text x="358.10" y="2057.16" font-size="30.1" font-weight="bold" text-anchor="middle">*</text>
</g>
<g>
<rect x="1015.37" y="2055.21" width="25.7" height="178.85" fill="#231f20"/>
<path d="M1028.22 2054.81V2040.09M1022.62 2040.09H1033.82" stroke="#231f20" stroke-width="2.8" stroke-linecap="round" fill="none"/>
<rect x="1047.77" y="2010.15" width="25.7" height="223.91" fill="#bbbdbf"/>
<path d="M1060.62 2009.75V1994.18M1055.02 1994.18H1066.22" stroke="#231f20" stroke-width="2.8" stroke-linecap="round" fill="none"/>
<rect x="1102.08" y="2050.36" width="25.7" height="183.70" fill="#231f20"/>
<path d="M1114.93 2049.96V2037.24M1109.33 2037.24H1120.53" stroke="#231f20" stroke-width="2.8" stroke-linecap="round" fill="none"/>
<rect x="1134.48" y="2053.21" width="25.7" height="180.85" fill="#bbbdbf"/>
<path d="M1147.33 2052.81V2040.38M1141.73 2040.38H1152.93" stroke="#231f20" stroke-width="2.8" stroke-linecap="round" fill="none"/>
<rect x="1188.79" y="2016.14" width="25.7" height="217.92" fill="#231f20"/>
<path d="M1201.64 2015.74V1999.31M1196.04 1999.31H1207.24" stroke="#231f20" stroke-width="2.8" stroke-linecap="round" fill="none"/>
<rect x="1221.19" y="2003.59" width="25.7" height="230.47" fill="#bbbdbf"/>
<path d="M1234.04 2003.19V1991.61M1228.44 1991.61H1239.64" stroke="#231f20" stroke-width="2.8" stroke-linecap="round" fill="none"/>
<rect x="1275.50" y="2040.95" width="25.7" height="193.11" fill="#231f20"/>
<path d="M1288.35 2040.55V2031.82M1282.75 2031.82H1293.95" stroke="#231f20" stroke-width="2.8" stroke-linecap="round" fill="none"/>
<rect x="1307.90" y="2021.56" width="25.7" height="212.50" fill="#bbbdbf"/>
<path d="M1320.75 2021.16V2013.29M1315.15 2013.29H1326.35" stroke="#231f20" stroke-width="2.8" stroke-linecap="round" fill="none"/>
<rect x="1362.21" y="2020.41" width="25.7" height="213.65" fill="#231f20"/>
<path d="M1375.06 2020.01V2007.30M1369.46 2007.30H1380.66" stroke="#231f20" stroke-width="2.8" stroke-linecap="round" fill="none"/>
<rect x="1394.61" y="2000.17" width="25.7" height="233.89" fill="#bbbdbf"/>
<path d="M1407.46 1999.77V1993.04M1401.86 1993.04H1413.06" stroke="#231f20" stroke-width="2.8" stroke-linecap="round" fill="none"/>
<path d="M1006.62 1949.24V2236.01" stroke="#231f20" stroke-width="3.9" fill="none"/>
<path d="M995.72 2234.06H1430.92" stroke="#231f20" stroke-width="3.8" fill="none"/>
<path d="M995.72 2177.48H1006.62" stroke="#231f20" stroke-width="3.8" fill="none"/>
<path d="M995.72 2120.89H1006.62" stroke="#231f20" stroke-width="3.8" fill="none"/>
<path d="M995.72 2064.31H1006.62" stroke="#231f20" stroke-width="3.8" fill="none"/>
<path d="M995.72 2007.72H1006.62" stroke="#231f20" stroke-width="3.8" fill="none"/>
<path d="M995.72 1951.14H1006.62" stroke="#231f20" stroke-width="3.8" fill="none"/>
<path d="M1044.57 2234.06V2245.91" stroke="#231f20" stroke-width="3.9" fill="none"/>
<path d="M1131.28 2234.06V2245.91" stroke="#231f20" stroke-width="3.9" fill="none"/>
<path d="M1217.99 2234.06V2245.91" stroke="#231f20" stroke-width="3.9" fill="none"/>
<path d="M1304.70 2234.06V2245.91" stroke="#231f20" stroke-width="3.9" fill="none"/>
<path d="M1391.41 2234.06V2245.91" stroke="#231f20" stroke-width="3.9" fill="none"/>
<text transform="translate(995.52 2241.76) scale(1 1.06)" font-size="22.3" font-weight="bold" text-anchor="end">0</text>
<text transform="translate(995.52 2185.18) scale(1 1.06)" font-size="22.3" font-weight="bold" text-anchor="end">50</text>
<text transform="translate(995.52 2128.59) scale(1 1.06)" font-size="22.3" font-weight="bold" text-anchor="end">100</text>
<text transform="translate(995.52 2072.01) scale(1 1.06)" font-size="22.3" font-weight="bold" text-anchor="end">150</text>
<text transform="translate(995.52 2015.42) scale(1 1.06)" font-size="22.3" font-weight="bold" text-anchor="end">200</text>
<text transform="translate(995.52 1958.84) scale(1 1.06)" font-size="22.3" font-weight="bold" text-anchor="end">250</text>
<text transform="translate(1044.57 2265.76) scale(1 1.06)" font-size="22.3" font-weight="bold" text-anchor="middle">4</text>
<text transform="translate(1131.28 2265.76) scale(1 1.06)" font-size="22.3" font-weight="bold" text-anchor="middle">6</text>
<text transform="translate(1217.99 2265.76) scale(1 1.06)" font-size="22.3" font-weight="bold" text-anchor="middle">8</text>
<text transform="translate(1304.70 2265.76) scale(1 1.06)" font-size="22.3" font-weight="bold" text-anchor="middle">10</text>
<text transform="translate(1391.41 2265.76) scale(1 1.06)" font-size="22.3" font-weight="bold" text-anchor="middle">12</text>
<text transform="translate(1218.52 2299.76) scale(1 1)" font-size="23.15" font-weight="bold" text-anchor="middle">weeks</text>
<text transform="translate(945.92 2093.06) rotate(-90)" font-size="23.8" font-weight="bold" text-anchor="middle">mg/dl</text>
<rect x="1492.82" y="1960.96" width="34.6" height="20.8" fill="#231f20"/>
<rect x="1492.82" y="2000.06" width="34.6" height="20.9" fill="#bbbdbf"/>
<text x="1542.42" y="1978.96" font-size="23.5">WT</text>
<text x="1541.82" y="2018.16" font-size="23.5">KO</text>
<text x="1147.40" y="2036.31" font-size="30.1" font-weight="bold" text-anchor="middle">*</text>
<text x="1201.60" y="1995.01" font-size="30.1" font-weight="bold" text-anchor="middle">*</text>
<text x="1375.00" y="2004.01" font-size="30.1" font-weight="bold" text-anchor="middle">*</text>
</g>
<text transform="matrix(0.4602 0 0 0.5440 698.66 40.80)" font-size="100" stroke="#231f20" stroke-width="1.0" stroke-linejoin="round" vector-effect="non-scaling-stroke">TR</text>
<text transform="matrix(0.5683 0 0 0.5609 775.60 40.81)" font-size="100" stroke="#231f20" stroke-width="0.5" stroke-linejoin="round" vector-effect="non-scaling-stroke">feeding</text>
<text transform="matrix(0.4808 0 0 0.5440 698.78 1187.70)" font-size="100" stroke="#231f20" stroke-width="1.0" stroke-linejoin="round" vector-effect="non-scaling-stroke">AL</text>
<text transform="matrix(0.5671 0 0 0.5587 772.50 1187.56)" font-size="100" stroke="#231f20" stroke-width="0.5" stroke-linejoin="round" vector-effect="non-scaling-stroke">feeding</text>
<text transform="matrix(0.5624 0 0 0.5690 285.91 187.70)" font-size="100" stroke="#231f20" stroke-width="0.5" stroke-linejoin="round" vector-effect="non-scaling-stroke">female</text>
<text transform="matrix(0.5589 0 0 0.5697 1125.98 187.75)" font-size="100" stroke="#231f20" stroke-width="0.5" stroke-linejoin="round" vector-effect="non-scaling-stroke">male</text>
<text transform="matrix(0.5624 0 0 0.5662 285.91 687.50)" font-size="100" stroke="#231f20" stroke-width="0.5" stroke-linejoin="round" vector-effect="non-scaling-stroke">female</text>
<text transform="matrix(0.5589 0 0 0.5676 1125.98 687.50)" font-size="100" stroke="#231f20" stroke-width="0.5" stroke-linejoin="round" vector-effect="non-scaling-stroke">male</text>
<text transform="matrix(0.5618 0 0 0.5731 347.61 1391.80)" font-size="100" stroke="#231f20" stroke-width="0.5" stroke-linejoin="round" vector-effect="non-scaling-stroke">female</text>
<text transform="matrix(0.5589 0 0 0.5731 1187.18 1391.80)" font-size="100" stroke="#231f20" stroke-width="0.5" stroke-linejoin="round" vector-effect="non-scaling-stroke">male</text>
<text transform="matrix(0.5631 0 0 0.5731 347.21 1896.80)" font-size="100" stroke="#231f20" stroke-width="0.5" stroke-linejoin="round" vector-effect="non-scaling-stroke">female</text>
<text transform="matrix(0.5580 0 0 0.5731 1186.88 1896.80)" font-size="100" stroke="#231f20" stroke-width="0.5" stroke-linejoin="round" vector-effect="non-scaling-stroke">male</text>
<text transform="matrix(0.5251 0 0 0.5513 6.22 396.40)" font-size="100" stroke="#231f20" stroke-width="1.0" stroke-linejoin="round" vector-effect="non-scaling-stroke">ND</text>
<text transform="matrix(0.4945 0 0 0.5469 -3.78 907.20)" font-size="100" stroke="#231f20" stroke-width="1.0" stroke-linejoin="round" vector-effect="non-scaling-stroke">HFD</text>
<text transform="matrix(0.5251 0 0 0.5484 6.22 1622.70)" font-size="100" stroke="#231f20" stroke-width="1.0" stroke-linejoin="round" vector-effect="non-scaling-stroke">ND</text>
<text transform="matrix(0.4945 0 0 0.5527 -3.78 2140.90)" font-size="100" stroke="#231f20" stroke-width="1.0" stroke-linejoin="round" vector-effect="non-scaling-stroke">HFD</text>
<text transform="matrix(0.5254 0 0 0.5484 61.89 140.20)" font-size="100" font-weight="bold" stroke="#231f20" stroke-width="1.0" stroke-linejoin="round" vector-effect="non-scaling-stroke">A</text>
<text transform="matrix(0.4525 0 0 0.5498 896.75 145.30)" font-size="100" font-weight="bold" stroke="#231f20" stroke-width="1.0" stroke-linejoin="round" vector-effect="non-scaling-stroke">B</text>
<text transform="matrix(0.4153 0 0 0.5470 64.54 703.25)" font-size="100" font-weight="bold" stroke="#231f20" stroke-width="1.4" stroke-linejoin="round" vector-effect="non-scaling-stroke">C</text>
<text transform="matrix(0.5176 0 0 0.5513 896.31 703.35)" font-size="100" font-weight="bold" stroke="#231f20" stroke-width="1.0" stroke-linejoin="round" vector-effect="non-scaling-stroke">D</text>
<text transform="matrix(0.3857 0 0 0.5455 71.10 1318.90)" font-size="100" font-weight="bold" stroke="#231f20" stroke-width="1.2" stroke-linejoin="round" vector-effect="non-scaling-stroke">E</text>
<text transform="matrix(0.4099 0 0 0.5440 897.33 1318.10)" font-size="100" font-weight="bold" stroke="#231f20" stroke-width="1.2" stroke-linejoin="round" vector-effect="non-scaling-stroke">F</text>
<text transform="matrix(0.4733 0 0 0.5527 69.71 1872.05)" font-size="100" font-weight="bold" stroke="#231f20" stroke-width="1.2" stroke-linejoin="round" vector-effect="non-scaling-stroke">G</text>
<text transform="matrix(0.4936 0 0 0.5498 896.47 1863.90)" font-size="100" font-weight="bold" stroke="#231f20" stroke-width="1.2" stroke-linejoin="round" vector-effect="non-scaling-stroke">H</text>
</svg>
</body>
</html>
